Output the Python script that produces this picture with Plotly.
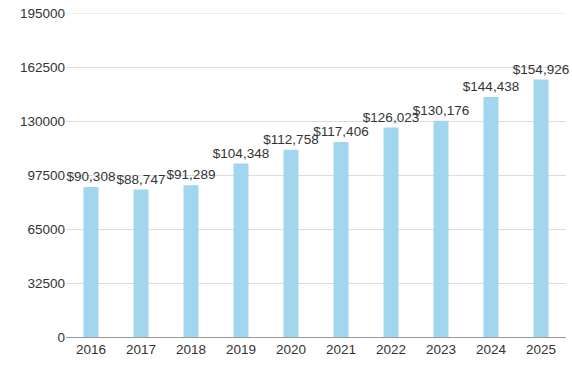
import plotly.graph_objects as go

years = ["2016", "2017", "2018", "2019", "2020", "2021", "2022", "2023", "2024", "2025"]
values = [90308, 88747, 91289, 104348, 112758, 117406, 126023, 130176, 144438, 154926]
labels = ["$" + format(v, ",") for v in values]
y_ticks = [0, 32500, 65000, 97500, 130000, 162500, 195000]
y_max = 195000

fig = go.Figure(go.Bar(
    x=years, y=values, text=labels, textposition="outside",
    textfont=dict(size=13.5, color="#333333"),
    constraintext="none", cliponaxis=False,
    marker=dict(color="#a0d6ee", line=dict(width=0)),
))
fig.update_layout(
    width=572, height=366,
    margin=dict(l=66, r=6, t=13, b=29, autoexpand=False),
    plot_bgcolor="white", paper_bgcolor="white",
    font=dict(family="Liberation Sans, Arial, sans-serif", size=13.5, color="#333333"),
    bargap=0.7, showlegend=False,
    shapes=[dict(type="line", xref="paper", yref="y", x0=0, x1=1, y0=y_max, y1=y_max,
                 line=dict(color="#dddddd", width=1), layer="below")],
)
fig.update_xaxes(showline=True, linecolor="#999999", linewidth=1, ticks="", showgrid=False,
                 automargin=False, ticklabeloverflow="allow")
fig.update_yaxes(range=[0, y_max], tickvals=y_ticks, ticktext=[str(t) for t in y_ticks],
                 showgrid=True, gridcolor="#dddddd", gridwidth=1, zeroline=False,
                 showline=False, ticks="", automargin=False, ticklabeloverflow="allow")
fig.write_html("out.html", config={"displayModeBar": False},
               post_script="document.body.style.margin='0';document.body.style.overflow='hidden';")
